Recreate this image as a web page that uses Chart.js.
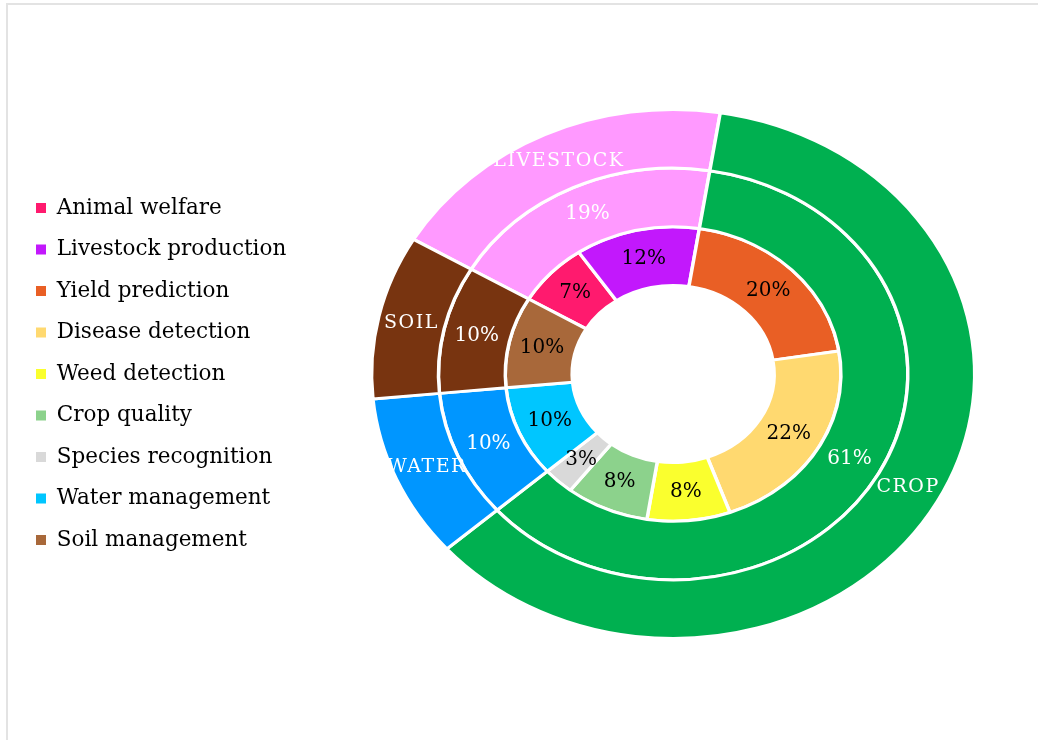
<!DOCTYPE html>
<html>
<head>
<meta charset="utf-8">
<title>Applications by area</title>
<script src="https://cdn.jsdelivr.net/npm/chart.js@4/dist/chart.umd.min.js"></script>
<style>
  html, body { margin: 0; padding: 0; background: #fff; overflow: hidden; }
  #marco { position: absolute; left: 6px; top: 3px; width: 1100px; height: 800px; border: 2px solid #e3e3e3; }
  #grafico { position: absolute; left: 0; top: 0; }
</style>
</head>
<body>
<div id="marco"></div>
<canvas id="grafico" width="1120" height="740"></canvas>
<script>
// Main areas (outer and middle rings)
var areas = ['LIVESTOCK', 'CROP', 'WATER', 'SOIL'];
var areaShares = [19, 61, 10, 10];

// Applications inside each area (inner ring), same order as the legend
var topics = ['Animal welfare', 'Livestock production', 'Yield prediction', 'Disease detection',
              'Weed detection', 'Crop quality', 'Species recognition', 'Water management', 'Soil management'];
var topicShares = [7, 12, 20, 22, 8, 8, 3, 10, 10];

var areaColors = ['#ff99ff', '#00b050', '#0096ff', '#783410'];
var topicColors = ['#ff1a6e', '#c218fc', '#e95f25', '#ffd970', '#faff2e', '#8cd28c', '#d9d9d9', '#00c6ff', '#a8683a'];

var fuente = 'DejaVu Serif';
var stretchX = 1.14; // the rings are drawn a bit wider than tall

// Stretch the rings horizontally and write the labels on top of each slice
var anillos = {
    id: 'anillos',
    beforeDatasetsDraw: function(chart) {
        var arc = chart.getDatasetMeta(0).data[0];
        var ctx = chart.ctx;
        ctx.save();
        ctx.translate(arc.x, arc.y);
        ctx.scale(stretchX, 1);
        ctx.translate(-arc.x, -arc.y);
    },
    afterDatasetsDraw: function(chart) {
        var ctx = chart.ctx;
        ctx.restore();
        chart.data.datasets.forEach(function(ds, d) {
            chart.getDatasetMeta(d).data.forEach(function(arc, i) {
                var p = arc.getProps(['x', 'y', 'startAngle', 'endAngle', 'innerRadius', 'outerRadius'], true);
                var mid = (p.startAngle + p.endAngle) / 2;
                var r = (p.innerRadius + p.outerRadius) / 2;
                var x = p.x + Math.cos(mid) * r * stretchX;
                var y = p.y + Math.sin(mid) * r;
                ctx.save();
                ctx.fillStyle = ds.labelColor;
                ctx.textAlign = 'center';
                ctx.textBaseline = 'middle';
                if (ds.names) {
                    ctx.font = '19px "' + fuente + '"';
                    ctx.letterSpacing = '1.5px';
                    ctx.fillText(ds.names[i], x, y);
                } else {
                    ctx.font = '20px "' + fuente + '"';
                    ctx.fillText(ds.data[i] + '%', x, y);
                }
                ctx.restore();
            });
        });
    }
};

var ctxAreas = document.getElementById('grafico').getContext('2d');
var areasChart = new Chart(ctxAreas, {
    type: 'doughnut',
    data: {
        labels: topics,
        datasets: [{
            data: areaShares,
            names: areas,
            labelColor: '#ffffff',
            backgroundColor: areaColors
        }, {
            data: areaShares,
            labelColor: '#ffffff',
            backgroundColor: areaColors
        }, {
            data: topicShares,
            labelColor: '#000000',
            backgroundColor: topicColors
        }]
    },
    options: {
        responsive: false,
        animation: false,
        rotation: -59.4,
        cutout: '33.5%',
        radius: 264.5,
        borderColor: '#ffffff',
        borderWidth: 3,
        hoverOffset: 0,
        layout: { padding: { left: 16, right: 70, top: 8, bottom: 0 } },
        plugins: {
            tooltip: { enabled: false },
            legend: {
                position: 'left',
                labels: {
                    boxWidth: 10,
                    boxHeight: 10,
                    padding: 20,
                    color: '#111111',
                    font: { family: fuente, size: 21.5 },
                    generateLabels: function() {
                        return topics.map(function(t, i) {
                            return { text: t, fillStyle: topicColors[i], strokeStyle: topicColors[i], lineWidth: 0, hidden: false, index: i, datasetIndex: 2 };
                        });
                    }
                }
            }
        }
    },
    plugins: [anillos]
});
</script>
</body>
</html>
